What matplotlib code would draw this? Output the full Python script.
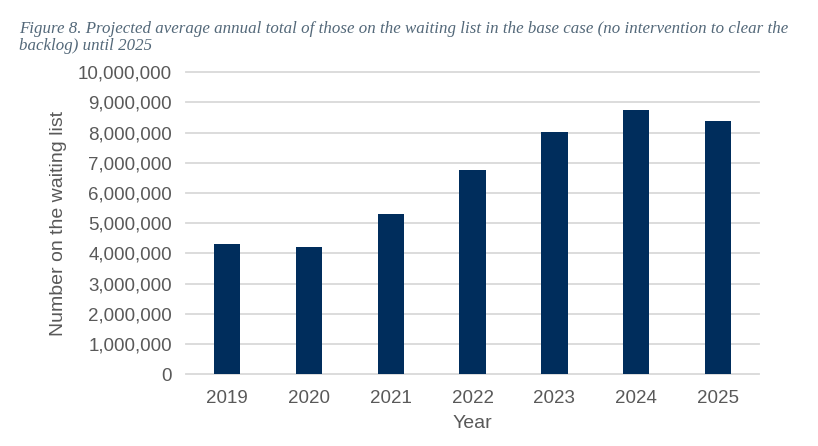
import matplotlib.pyplot as plt
from matplotlib.ticker import FuncFormatter

# Data
years = ['2019', '2020', '2021', '2022', '2023', '2024', '2025']
waiting_list = [4310000, 4210000, 5300000, 6760000, 8030000, 8740000, 8370000]
y_ticks = [0, 1000000, 2000000, 3000000, 4000000, 5000000,
           6000000, 7000000, 8000000, 9000000, 10000000]

title = ('Figure 8. Projected average annual total of those on the waiting list in the base case (no intervention to clear the\n'
         'backlog) until 2025')

plt.rcParams['font.family'] = ['Liberation Sans', 'DejaVu Sans']

fig = plt.figure(figsize=(8.18, 4.46), dpi=100)
ax = fig.add_axes([0.2274, 0.1608, 0.7006, 0.6772])

ax.bar(range(len(years)), waiting_list, width=0.32, color='#002D5C', zorder=3)

ax.set_xlim(-0.5, len(years) - 0.5)
ax.set_ylim(0, 10000000)
ax.set_yticks(y_ticks)
ax.yaxis.set_major_formatter(FuncFormatter(lambda v, p: f'{int(v):,}'))
ax.set_xticks(range(len(years)))
ax.set_xticklabels(years)

ax.grid(axis='y', color='#d9d9d9', linewidth=1.3, zorder=0)
for line in ax.get_ygridlines():
    line.set_clip_on(False)
for s in ax.spines.values():
    s.set_visible(False)
ax.tick_params(axis='both', length=0, labelsize=13.5, colors='#595959')
ax.tick_params(axis='y', pad=10)
ax.tick_params(axis='x', pad=11)

ax.set_xlabel('Year', fontsize=14, color='#595959', labelpad=6)
ax.set_ylabel('Number on the waiting list', fontsize=14, color='#595959', labelpad=8)

fig.text(0.023, 0.952, title, ha='left', va='top', fontsize=12.2,
         family=['Liberation Serif', 'DejaVu Serif'], style='italic',
         color='#536879', linespacing=1.05)

fig.savefig('out.png', dpi=100)
